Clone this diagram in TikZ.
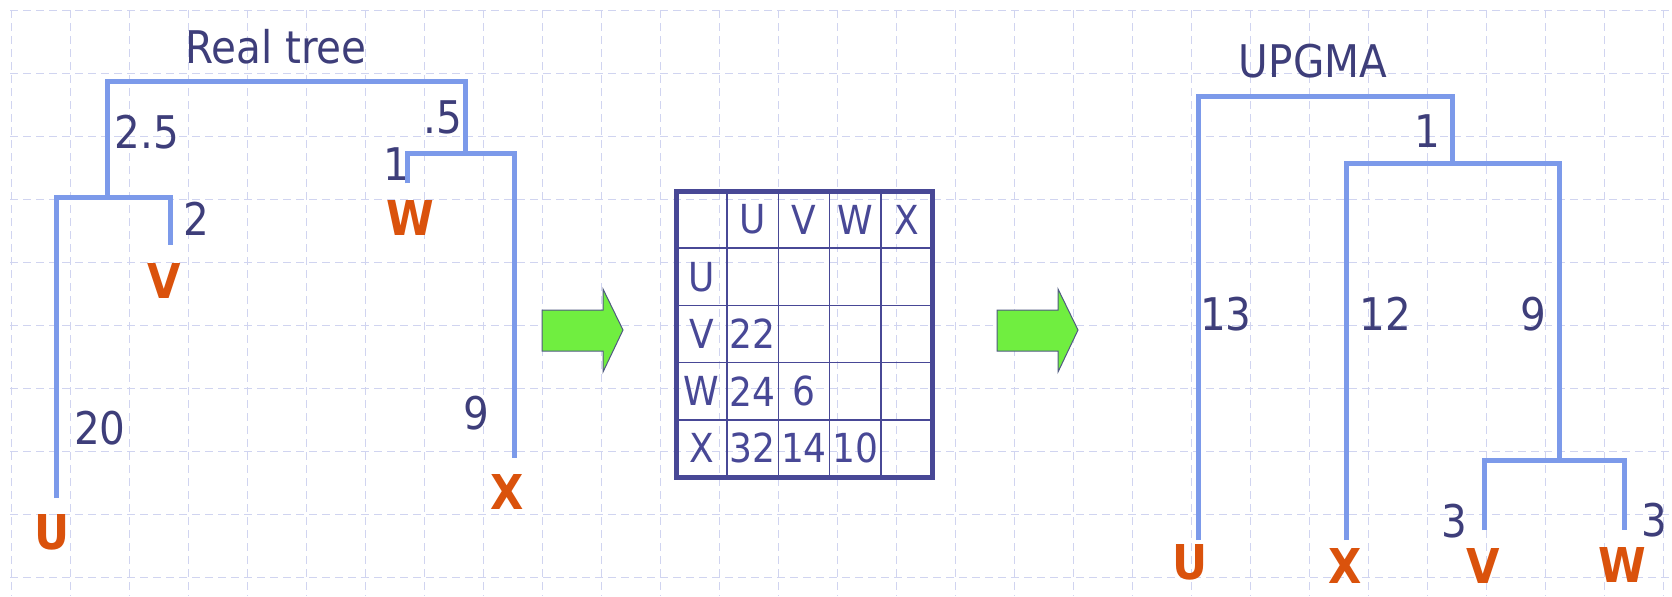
\documentclass[tikz,border=0pt]{standalone}
\usepackage{fontspec}
\setmainfont{DejaVu Sans Condensed}[BoldFont={DejaVu Sans Condensed Bold}]
\usepackage{tikz}
\definecolor{treeblue}{RGB}{124,154,234}
\definecolor{numblue}{RGB}{62,62,122}
\definecolor{leaforange}{RGB}{218,82,12}
\definecolor{tabblue}{RGB}{72,72,150}
\definecolor{gridlav}{RGB}{208,212,240}
\definecolor{arrowgreen}{RGB}{112,238,64}
\definecolor{arrowedge}{RGB}{80,90,130}
\newcommand\lenfont{\fontsize{22.5}{26}\selectfont}
\newcommand\leaffont{\fontsize{24}{28}\selectfont\bfseries}
\newcommand\cellfont{\fontsize{20}{24}\selectfont}

\begin{document}
\begin{tikzpicture}[x=0.5pt,y=-0.5pt,
  branch/.style={draw=treeblue,line width=2.5pt},
  len/.style={text=numblue,font=\lenfont,inner sep=0pt},
  leaf/.style={text=leaforange,font=\leaffont,inner sep=0pt},
  cell/.style={text=tabblue,font=\cellfont,inner sep=0pt},
  tabline/.style={draw=tabblue,line width=0.8pt},
  tabframe/.style={draw=tabblue,line width=2.5pt},
  gridline/.style={draw=gridlav,line width=0.5pt,dash pattern=on 4pt off 2.5pt},
  greenarrow/.style={fill=arrowgreen,draw=arrowedge,line width=0.5pt}]
\fill[white] (0,0) rectangle (1672,596);
\useasboundingbox (0,0) rectangle (1672,596);
% background grid
\foreach \k in {0,...,28} \draw[gridline] (11+59*\k,10) -- (11+59*\k,596);
\foreach \k in {0,...,9} \draw[gridline] (10,10+63*\k) -- (1672,10+63*\k);

% real tree
\node[len] (realt) at (276,47) {Real tree};
\coordinate (rtop) at (286,81);
\coordinate (uv) at (107,197);
\coordinate (wx) at (465,153);
\coordinate (uend) at (56,498);
\coordinate (vend) at (170,245);
\coordinate (wend) at (407,183);
\coordinate (xend) at (514,458);
\draw[branch] (uv) |- (rtop) -| (wx);
\draw[branch] (uend) |- (uv) -| (vend);
\draw[branch] (wend) |- (wx) -| (xend);
\node[len] (l25) at (147,132) {2.5};
\node[len] (l05) at (443,117) {.5};
\node[len] (l1) at (396,164) {1};
\node[len] (l2) at (196,219) {2};
\node[len] (l20) at (100,428) {20};
\node[len] (l9) at (476,413) {9};
\node[leaf] (U) at (52,532) {U};
\node[leaf] (V) at (164,281) {V};
\node[leaf] (W) at (410,218) {W};
\node[leaf] (X) at (507,492) {X};

% arrows
\foreach \x in {542,997}
  \draw[greenarrow] (\x,310) -- ++(61,0) -- ++(0,-21) -- ++(20,41) -- ++(-20,42) -- ++(0,-21) -- ++(-61,0) -- cycle;

% distance table
\foreach \i in {1,...,4} {
  \draw[tabline] (676+51.2*\i,191) -- (676+51.2*\i,477);
  \draw[tabline] (676,191+57.2*\i) -- (932,191+57.2*\i);
}
\draw[tabframe] (676,191) rectangle (932,477);
\foreach \lab [count=\i] in {U,V,W,X} {
  \node[cell] (col\i) at (701.6+51.2*\i,219.6) {\lab};
  \node[cell] (row\i) at (701.6,219.6+57.2*\i) {\lab};
}
\foreach \r/\c/\d in {2/1/22,3/1/24,3/2/6,4/1/32,4/2/14,4/3/10}
  \node[cell] (d\r\c) at (701.6+51.2*\c,219.6+57.2*\r) {\d};

% UPGMA tree
\node[len] (upgma) at (1313,61) {UPGMA};
\coordinate (utop) at (1325,96);
\coordinate (xvw) at (1452,163);
\coordinate (vw) at (1559,460);
\coordinate (u2end) at (1198,540);
\coordinate (x2end) at (1346,540);
\coordinate (v2end) at (1484,530);
\coordinate (w2end) at (1624,530);
\draw[branch] (u2end) |- (utop) -| (xvw);
\draw[branch] (x2end) |- (xvw) -| (vw);
\draw[branch] (v2end) |- (vw) -| (w2end);
\node[len] (m1) at (1427,131) {1};
\node[len] (m13) at (1226,314) {13};
\node[len] (m12) at (1385,314) {12};
\node[len] (m9) at (1533,314) {9};
\node[len] (m3v) at (1454,521) {3};
\node[len] (m3w) at (1654,520) {3};
\node[leaf] (U2) at (1190,562) {U};
\node[leaf] (X2) at (1345,566) {X};
\node[leaf] (V2) at (1483,566) {V};
\node[leaf] (W2) at (1622,565) {W};
\end{tikzpicture}
\end{document}
